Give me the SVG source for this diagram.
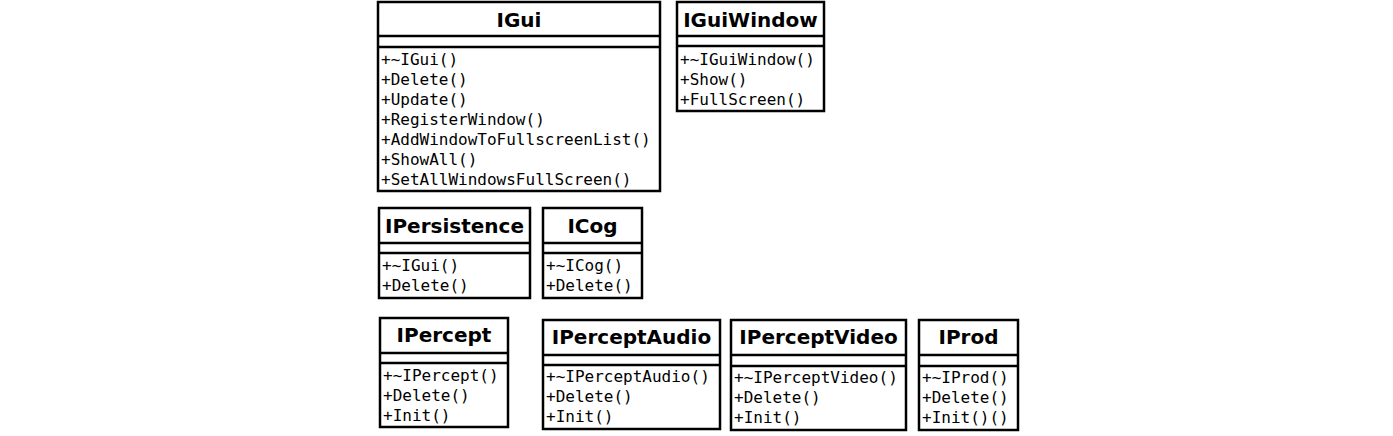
<svg xmlns="http://www.w3.org/2000/svg" width="1393" height="436" viewBox="0 0 1393 436">
<style>
rect.box{fill:#fff;stroke:#000;stroke-width:2.5}
line.sep{stroke:#000;stroke-width:2.5}
text.t{font-family:"DejaVu Sans",sans-serif;font-weight:bold;font-size:20px;text-anchor:middle;fill:#000}
text.m{font-family:"DejaVu Sans Mono",monospace;font-size:16px;fill:#000}
</style>
<rect width="1393" height="436" fill="#fff"/>
<g id="IGui">
<rect class="box" x="378" y="2" width="282" height="189"/>
<line class="sep" x1="378" y1="36" x2="660" y2="36"/>
<line class="sep" x1="378" y1="47" x2="660" y2="47"/>
<text class="t" x="519" y="27">IGui</text>
<text class="m" x="381" y="65">+~IGui()</text>
<text class="m" x="381" y="85">+Delete()</text>
<text class="m" x="381" y="105">+Update()</text>
<text class="m" x="381" y="125">+RegisterWindow()</text>
<text class="m" x="381" y="145">+AddWindowToFullscreenList()</text>
<text class="m" x="381" y="165">+ShowAll()</text>
<text class="m" x="381" y="185">+SetAllWindowsFullScreen()</text>
</g>
<g id="IGuiWindow">
<rect class="box" x="677" y="2" width="147" height="109"/>
<line class="sep" x1="677" y1="36" x2="824" y2="36"/>
<line class="sep" x1="677" y1="46" x2="824" y2="46"/>
<text class="t" x="750.5" y="27">IGuiWindow</text>
<text class="m" x="680" y="65">+~IGuiWindow()</text>
<text class="m" x="680" y="85">+Show()</text>
<text class="m" x="680" y="105">+FullScreen()</text>
</g>
<g id="IPersistence">
<rect class="box" x="379" y="208" width="151" height="90"/>
<line class="sep" x1="379" y1="243" x2="530" y2="243"/>
<line class="sep" x1="379" y1="253" x2="530" y2="253"/>
<text class="t" x="454.5" y="233">IPersistence</text>
<text class="m" x="382" y="271">+~IGui()</text>
<text class="m" x="382" y="291">+Delete()</text>
</g>
<g id="ICog">
<rect class="box" x="543" y="208" width="99" height="90"/>
<line class="sep" x1="543" y1="243" x2="642" y2="243"/>
<line class="sep" x1="543" y1="253" x2="642" y2="253"/>
<text class="t" x="592.5" y="233">ICog</text>
<text class="m" x="546" y="271">+~ICog()</text>
<text class="m" x="546" y="291">+Delete()</text>
</g>
<g id="IPercept">
<rect class="box" x="380" y="318" width="128" height="109"/>
<line class="sep" x1="380" y1="353" x2="508" y2="353"/>
<line class="sep" x1="380" y1="363" x2="508" y2="363"/>
<text class="t" x="444" y="342">IPercept</text>
<text class="m" x="383" y="381">+~IPercept()</text>
<text class="m" x="383" y="401">+Delete()</text>
<text class="m" x="383" y="421">+Init()</text>
</g>
<g id="IPerceptAudio">
<rect class="box" x="543" y="320" width="177" height="109"/>
<line class="sep" x1="543" y1="355" x2="720" y2="355"/>
<line class="sep" x1="543" y1="365" x2="720" y2="365"/>
<text class="t" x="631.5" y="344">IPerceptAudio</text>
<text class="m" x="546" y="382">+~IPerceptAudio()</text>
<text class="m" x="546" y="402">+Delete()</text>
<text class="m" x="546" y="422">+Init()</text>
</g>
<g id="IPerceptVideo">
<rect class="box" x="731" y="320" width="175" height="110"/>
<line class="sep" x1="731" y1="355" x2="906" y2="355"/>
<line class="sep" x1="731" y1="366" x2="906" y2="366"/>
<text class="t" x="818.5" y="344">IPerceptVideo</text>
<text class="m" x="734" y="383">+~IPerceptVideo()</text>
<text class="m" x="734" y="403">+Delete()</text>
<text class="m" x="734" y="423">+Init()</text>
</g>
<g id="IProd">
<rect class="box" x="919" y="320" width="99" height="110"/>
<line class="sep" x1="919" y1="355" x2="1018" y2="355"/>
<line class="sep" x1="919" y1="366" x2="1018" y2="366"/>
<text class="t" x="968.5" y="344">IProd</text>
<text class="m" x="922" y="383">+~IProd()</text>
<text class="m" x="922" y="403">+Delete()</text>
<text class="m" x="922" y="423">+Init()()</text>
</g>
<g id="connectors"></g>
</svg>
